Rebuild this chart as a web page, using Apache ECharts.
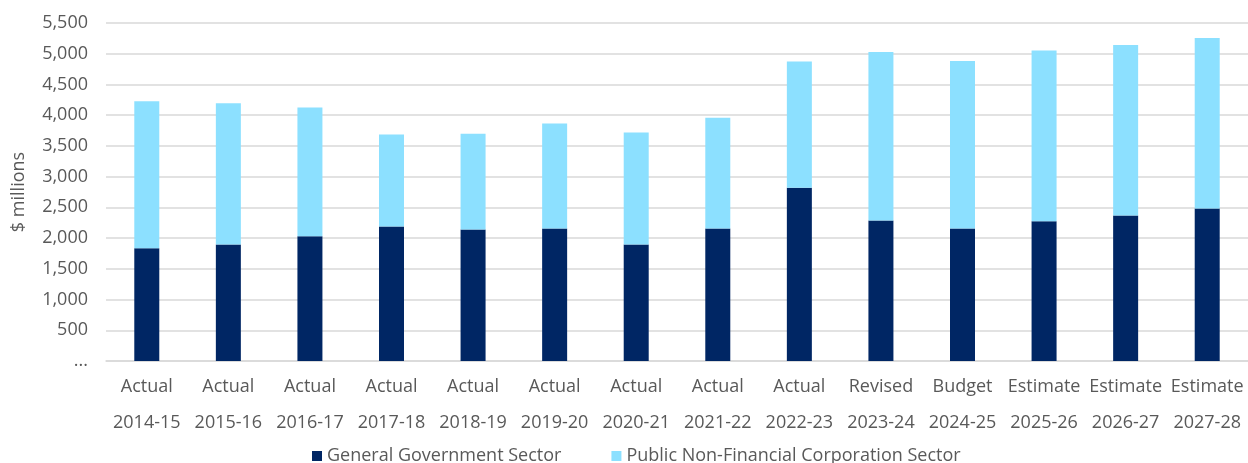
<!DOCTYPE html>
<html>
<head>
<meta charset="utf-8">
<script src="https://cdn.jsdelivr.net/npm/echarts@6/dist/echarts.min.js"></script>
<style>
html,body{margin:0;padding:0;background:#fff;}
#chart{width:1248px;height:463px;}
</style>
</head>
<body>
<div id="chart"></div>
<script>
const stages = ["Actual","Actual","Actual","Actual","Actual","Actual","Actual","Actual","Actual","Revised","Budget","Estimate","Estimate","Estimate"];
const years = ["2014-15","2015-16","2016-17","2017-18","2018-19","2019-20","2020-21","2021-22","2022-23","2023-24","2024-25","2025-26","2026-27","2027-28"];
const generalGovernment = [1835,1895,2030,2187,2139,2155,1895,2155,2821,2285,2155,2274,2366,2480];
const publicNonFinancial = [2393,2301,2095,1500,1559,1711,1824,1803,2052,2745,2728,2777,2777,2777];
const seriesNames = ["General Government Sector","Public Non-Financial Corporation Sector"];
const yTicks = {min:0, max:5500, interval:500};

const categories = years.map((y,i)=>stages[i]+"\n"+y);
const font = "Open Sans";
const textColor = "#595959";

const chart = echarts.init(document.getElementById('chart'), null, {renderer:'canvas'});
chart.setOption({
  animation:false,
  textStyle:{fontFamily:font},
  grid:{left:106, right:0, top:23, bottom:102, containLabel:false},
  legend:{
    left:307, top:442,
    itemWidth:10, itemHeight:10, itemGap:50,
    icon:'rect',
    textStyle:{color:textColor, fontSize:18, fontFamily:font},
    data:seriesNames
  },
  xAxis:{
    type:'category',
    data:categories,
    axisLine:{lineStyle:{color:'#d9d9d9', width:1.5}},
    axisTick:{show:false},
    axisLabel:{color:textColor, fontSize:18, fontFamily:font, lineHeight:36, margin:8, interval:0}
  },
  yAxis:{
    type:'value',
    min:yTicks.min, max:yTicks.max, interval:yTicks.interval,
    name:'$ millions',
    nameLocation:'middle',
    nameGap:78,
    nameTextStyle:{color:textColor, fontSize:18, fontFamily:font},
    axisLine:{show:false},
    axisTick:{show:false},
    splitLine:{lineStyle:{color:'#d9d9d9', width:1.5}},
    axisLabel:{color:textColor, fontSize:18, fontFamily:font, margin:18,
      formatter:v=> v===0 ? '...' : v.toLocaleString('en-US')}
  },
  series:[
    {name:seriesNames[0], type:'bar', stack:'total', barWidth:25, data:generalGovernment, itemStyle:{color:'#002664'}},
    {name:seriesNames[1], type:'bar', stack:'total', barWidth:25, data:publicNonFinancial, itemStyle:{color:'#8CE0FF'}}
  ]
});
</script>
</body>
</html>
